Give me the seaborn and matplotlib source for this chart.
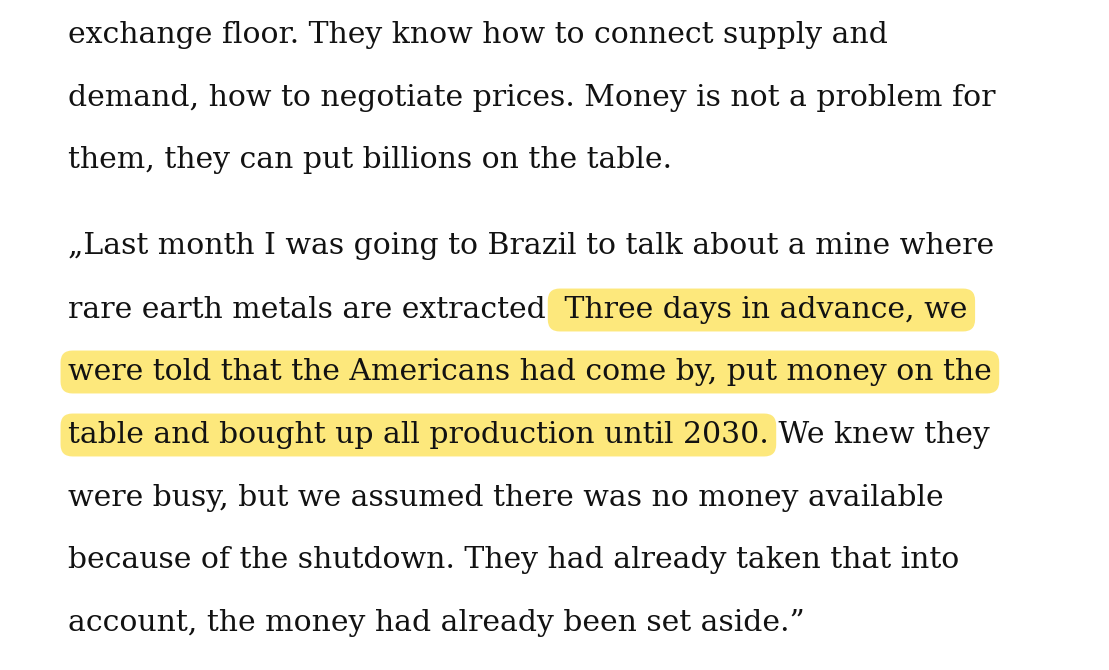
import matplotlib
matplotlib.use("Agg")
import matplotlib.pyplot as plt
import seaborn as sns

sns.set_theme(style="white")
plt.rcParams["font.family"] = ["DejaVu Serif"]

# each line: (plain prefix, highlighted part, plain suffix)
lines = [
    ("exchange floor. They know how to connect supply and", "", ""),
    ("demand, how to negotiate prices. Money is not a problem for", "", ""),
    ("them, they can put billions on the table.", "", ""),
    ("„Last month I was going to Brazil to talk about a mine where", "", ""),
    ("rare earth metals are extracted.", " Three days in advance, we", ""),
    ("", "were told that the Americans had come by, put money on the", ""),
    ("", "table and bought up all production until 2030.", " We knew they"),
    ("were busy, but we assumed there was no money available", "", ""),
    ("because of the shutdown. They had already taken that into", "", ""),
    ("account, the money had already been set aside.”", "", ""),
]
line_y = [35, 98, 160, 246, 310, 372, 435, 498, 560, 623]

W, H = 1109, 670
fig = plt.figure(figsize=(W / 100, H / 100), dpi=100)
ax = fig.add_axes([0, 0, 1, 1])
ax.set_xlim(0, W)
ax.set_ylim(H, 0)
ax.axis("off")

fs = 21.5
color = "#121212"
hl = "#fde87c"
renderer = fig.canvas.get_renderer()

def width_px(s):
    t = ax.text(0, 0, s, fontsize=fs)
    w = t.get_window_extent(renderer).width
    t.remove()
    return w

for (pre, mid, post), y in zip(lines, line_y):
    x = 68
    if pre:
        ax.text(x, y, pre, fontsize=fs, color=color, va="center")
        x += width_px(pre)
    if mid:
        ax.text(x, y, mid, fontsize=fs, color=color, va="center",
                bbox=dict(boxstyle="round,pad=0.25,rounding_size=0.4",
                          fc=hl, ec="none"))
        x += width_px(mid)
    if post:
        ax.text(x, y, post, fontsize=fs, color=color, va="center")

fig.savefig("out.png", dpi=100)
